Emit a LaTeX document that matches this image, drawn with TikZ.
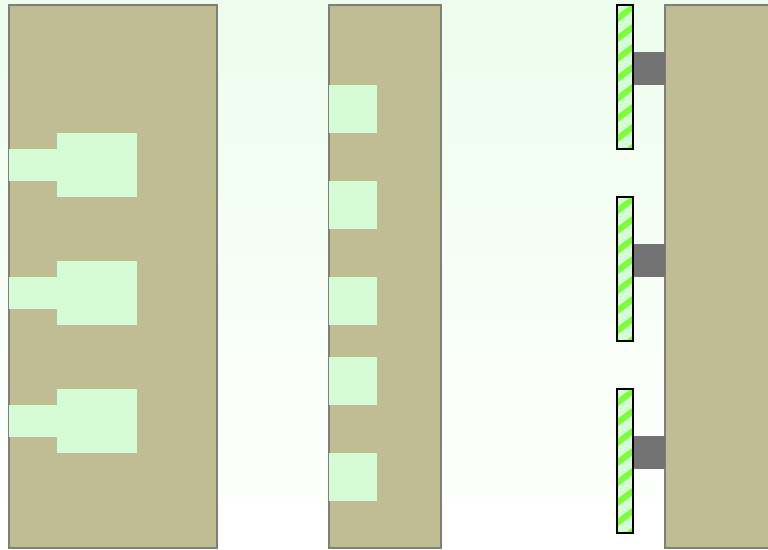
\documentclass[tikz,border=0pt]{standalone}
\usetikzlibrary{shadings}
\definecolor{bgtop}{HTML}{EDFDED}
\definecolor{khaki}{HTML}{C0BD94}
\definecolor{edgegray}{HTML}{7F7F78}
\definecolor{pale}{HTML}{D6FCD6}
\definecolor{stripe}{HTML}{7CFC3C}
\definecolor{plug}{HTML}{737373}
\tikzset{
  wall/.style={fill=khaki, draw=edgegray, line width=1.6pt},
  slot/.style={fill=pale},
  plate/.style={draw=black, line width=1.8pt},
  peg/.style={fill=plug},
}
\newcommand{\hatchplate}[1]{%
  \begin{scope}
    \clip (617,#1) rectangle (633,#1+144);
    \fill[pale] (617,#1) rectangle (633,#1+144);
    \foreach \k in {-1,...,8}{
      \draw[stripe, line width=6pt] (613,#1+\k*20+17) -- (637,#1+\k*20-1);
    }
  \end{scope}
  \draw[plate] (617,#1) rectangle (633,#1+144);
}
\begin{document}
\begin{tikzpicture}[x=1pt,y=-1pt]
\useasboundingbox (0,0) rectangle (768,549);
\shade[top color=bgtop, bottom color=white] (0,0) rectangle (768,549);
% left wall
\draw[wall] (9,5) rectangle (217,548);
\foreach \d in {0,128,256}{
  \fill[slot] (9,149+\d) rectangle (57,181+\d);
  \fill[slot] (57,133+\d) rectangle (137,197+\d);
}
% middle wall
\draw[wall] (329,5) rectangle (441,548);
\foreach \y in {85,181,277,357,453}{
  \fill[slot] (329,\y) rectangle (377,\y+48);
}
% right wall
\draw[wall] (665,5) rectangle (770,548);
\foreach \y/\p in {5/52,197/244,389/436}{
  \fill[peg] (633,\p) rectangle (665,\p+33);
  \hatchplate{\y}
}
\end{tikzpicture}
\end{document}
